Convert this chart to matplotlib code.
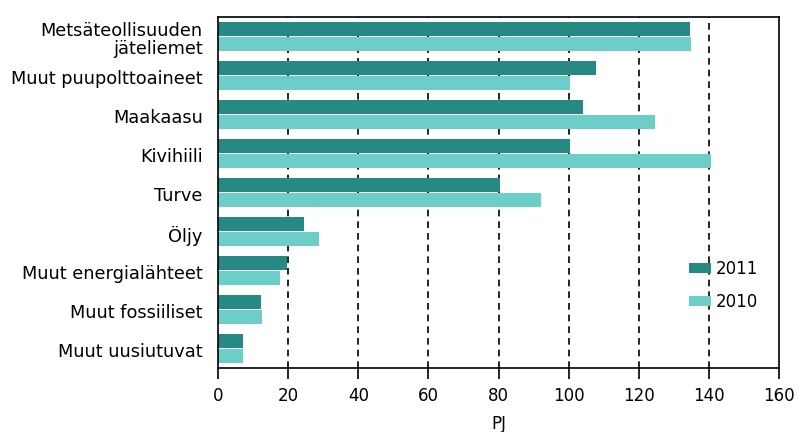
import numpy as np
import matplotlib
matplotlib.use("Agg")
import matplotlib.pyplot as plt

# energy sources (top to bottom) and consumption in PJ
categories = ['Metsäteollisuuden\njäteliemet', 'Muut puupolttoaineet', 'Maakaasu',
              'Kivihiili', 'Turve', 'Öljy', 'Muut energialähteet',
              'Muut fossiiliset', 'Muut uusiutuvat']
values_2011 = [134.5, 107.8, 104.0, 100.4, 80.4, 24.5, 19.7, 12.3, 7.1]
values_2010 = [135.0, 100.4, 124.6, 140.6, 92.1, 28.8, 17.7, 12.5, 7.1]
xticks = [0, 20, 40, 60, 80, 100, 120, 140, 160]

plt.rcParams['font.family'] = ['DejaVu Sans']

fig = plt.figure(figsize=(7.98, 4.32), dpi=100)
ax = fig.add_axes([0.2732, 0.1481, 0.703, 0.8125])

y = np.arange(len(categories))
h = 0.36
ax.barh(y - 0.2, values_2011, height=h, color='#278983', label='2011', zorder=2)
ax.barh(y + 0.2, values_2010, height=h, color='#6dcdc8', label='2010', zorder=2)

ax.set_ylim(len(categories) - 0.5, -0.5)
ax.set_xlim(0, 160)
ax.set_yticks(y + 0.05)
ax.set_yticklabels(categories, fontsize=12.8, linespacing=1.0)
ax.tick_params(axis='y', length=0, pad=11)
ax.set_xticks(xticks)
ax.tick_params(axis='x', labelsize=12, length=8, width=1.2, direction='out', pad=6)

# dashed vertical grid behind the bars
for xv in xticks[1:-1]:
    ax.axvline(xv, color='black', linestyle=(0, (4, 3)), linewidth=1.2, zorder=1)

for s in ax.spines.values():
    s.set_linewidth(1.2)

ax.set_xlabel('PJ', fontsize=12, labelpad=7)

ax.legend(loc='lower right', bbox_to_anchor=(0.99, 0.12), frameon=False,
          fontsize=12, handlelength=1.3, handleheight=0.6, handletextpad=0.3,
          labelspacing=0.9)

fig.savefig('out.png', dpi=100)
